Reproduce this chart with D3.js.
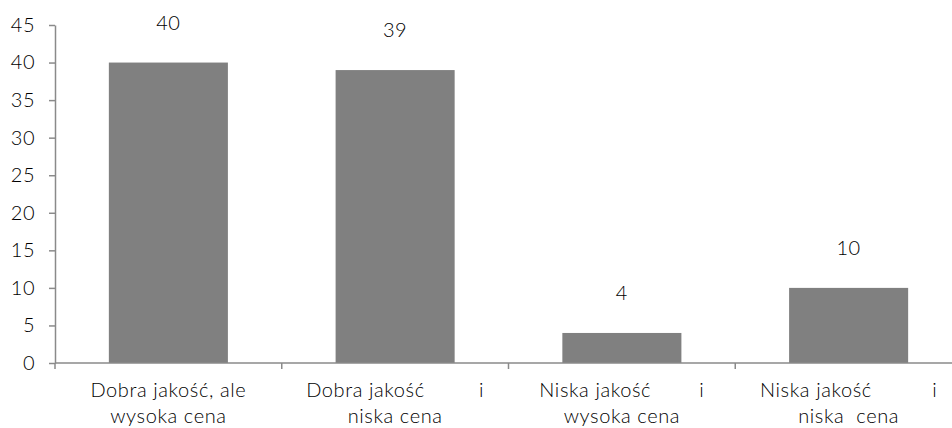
<!DOCTYPE html>
<html>
<head>
<meta charset="utf-8">
<script src="https://cdn.jsdelivr.net/npm/d3@7"></script>
<style>
    body { margin: 0; background: #fff; }
    text { font-family: Lato, "Open Sans", sans-serif; font-weight: 300; fill: #000; }
</style>
</head>
<body>
<div id="chart"></div>
<script>
// category labels, two lines each (spacing kept as in the source)
const categories = [
    'Dobra jakość, ale\nwysoka cena',
    'Dobra jakość         i\nniska cena',
    'Niska jakość        i\nwysoka cena',
    'Niska jakość          i\nniska  cena',
];
const values = [40, 39, 4, 10];
const yTicks = [0, 5, 10, 15, 20, 25, 30, 35, 40, 45];

const width = 952;
const height = 428;
const margin = {top: 25, right: -10, bottom: 65, left: 55};
const axisColor = '#8a8a8a';
const barColor = '#808080';

const svg = d3.select('#chart')
    .append('svg')
    .attr('width', width)
    .attr('height', height);

const x = d3.scaleBand()
    .domain(categories)
    .range([margin.left, width - margin.right])
    .paddingInner(0.475)
    .paddingOuter(0.2375);

// band boundaries for the x ticks (no padding)
const xOuter = d3.scaleBand()
    .domain(categories)
    .range([margin.left, width - margin.right]);

const y = d3.scaleLinear()
    .domain([0, 45])
    .range([height - margin.bottom, margin.top]);

// bars
svg.selectAll('.bar')
    .data(values)
    .enter()
    .append('rect')
    .attr('class', 'bar')
    .attr('x', (d, i) => x(categories[i]))
    .attr('y', (d) => y(d))
    .attr('width', x.bandwidth())
    .attr('height', (d) => y(0) - y(d))
    .attr('fill', barColor);

// value labels
svg.selectAll('.value')
    .data(values)
    .enter()
    .append('text')
    .attr('class', 'value')
    .attr('x', (d, i) => x(categories[i]) + x.bandwidth() / 2)
    .attr('y', (d) => y(d) - 33)
    .attr('text-anchor', 'middle')
    .style('font-size', '20px')
    .style('letter-spacing', '0.5px')
    .text((d) => d);

// y axis
const yAxis = d3.axisLeft(y)
    .tickValues(yTicks)
    .tickSize(6)
    .tickSizeOuter(0)
    .tickPadding(14);

const gy = svg.append('g')
    .attr('transform', 'translate(' + margin.left + ',0)')
    .call(yAxis);
gy.select('.domain').attr('stroke', axisColor).attr('stroke-width', 1.5);
gy.selectAll('.tick line').attr('stroke', axisColor).attr('stroke-width', 1.5);
gy.selectAll('.tick text')
    .style('font-size', '20px')
    .style('letter-spacing', '0.5px')
    .style('font-family', 'Lato, sans-serif')
    .style('font-weight', 300)
    .attr('fill', '#000');

// x axis line + boundary ticks
const gx = svg.append('g').attr('class', 'x axis');
gx.append('line')
    .attr('x1', margin.left)
    .attr('x2', width - margin.right)
    .attr('y1', y(0))
    .attr('y2', y(0))
    .attr('stroke', axisColor)
    .attr('stroke-width', 1.5);

const boundaries = categories.map((c) => xOuter(c)).concat([width - margin.right]);
gx.selectAll('.xtick')
    .data(boundaries)
    .enter()
    .append('line')
    .attr('class', 'xtick')
    .attr('x1', (d) => d)
    .attr('x2', (d) => d)
    .attr('y1', y(0))
    .attr('y2', y(0) + 6)
    .attr('stroke', axisColor)
    .attr('stroke-width', 1.5);

// x labels
const xl = gx.selectAll('.xlabel')
    .data(categories)
    .enter()
    .append('text')
    .attr('class', 'xlabel')
    .attr('text-anchor', 'middle')
    .style('white-space', 'pre')
    .style('font-size', '20px')
    .style('letter-spacing', '0.6px');

xl.each(function(d) {
    const cx = x(d) + x.bandwidth() / 2;
    d.split('\n').forEach((line, i) => {
        d3.select(this)
            .append('tspan')
            .attr('x', cx)
            .attr('y', y(0) + 34 + i * 26)
            .text(line);
    });
});
</script>
</body>
</html>
